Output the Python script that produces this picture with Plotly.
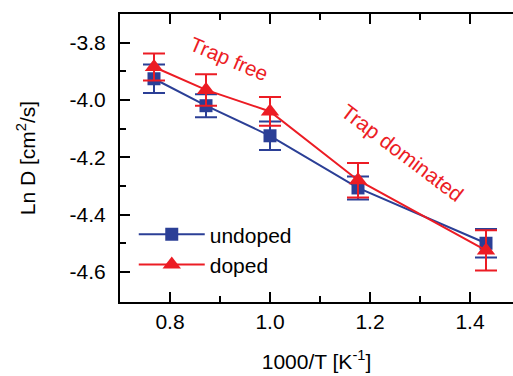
import plotly.graph_objects as go

x_vals = [0.768, 0.872, 1.0, 1.176, 1.432]
undoped = [-3.926, -4.02, -4.125, -4.307, -4.50]
undoped_err = [0.05, 0.04, 0.05, 0.04, 0.05]
doped = [-3.885, -3.965, -4.04, -4.28, -4.525]
doped_err = [0.047, 0.055, 0.05, 0.06, 0.07]
x_ticks = [0.8, 1.0, 1.2, 1.4]
x_ticktext = ["0.8", "1.0", "1.2", "1.4"]
y_ticks = [-3.8, -4.0, -4.2, -4.4, -4.6]
y_ticktext = ["-3.8", "-4.0", "-4.2", "-4.4", "-4.6"]

BLUE = "#2b3f96"
RED = "#ec1c24"
FONT = "Liberation Sans, Arial, Helvetica, sans-serif"

fig = go.Figure()
fig.add_trace(go.Scatter(
    x=x_vals, y=undoped, mode="lines+markers", name="undoped",
    line=dict(color=BLUE, width=2),
    marker=dict(symbol="square", size=13, color=BLUE),
    error_y=dict(type="data", array=undoped_err, color=BLUE, thickness=2, width=11),
))
fig.add_trace(go.Scatter(
    x=x_vals, y=doped, mode="lines+markers", name="doped",
    line=dict(color=RED, width=2),
    marker=dict(symbol="triangle-up", size=16, color=RED),
    error_y=dict(type="data", array=doped_err, color=RED, thickness=2, width=11),
))

fig.add_annotation(x=0.918, y=-3.855, text="Trap free", showarrow=False,
                   textangle=23, font=dict(size=20.5, color=RED, family=FONT))
fig.add_annotation(x=1.264, y=-4.185, text="Trap dominated", showarrow=False,
                   textangle=37, font=dict(size=21, color=RED, family=FONT))

axis_common = dict(
    showline=True, linecolor="black", linewidth=2,
    ticks="inside", ticklen=10, tickwidth=2, tickcolor="black",
    showgrid=False, zeroline=False,
    tickfont=dict(size=21, color="black", family=FONT),
)

fig.update_layout(
    width=513, height=376,
    margin=dict(l=120, r=0, t=14, b=74),
    paper_bgcolor="white", plot_bgcolor="white",
    font=dict(family=FONT, color="black"),
    showlegend=True,
    legend=dict(x=0.035, y=0.305, xanchor="left", yanchor="top",
                bgcolor="rgba(0,0,0,0)", font=dict(size=21, color="black", family=FONT),
                itemwidth=66, tracegroupgap=0),
    xaxis=dict(
        range=[0.7, 1.486], tickvals=x_ticks, ticktext=x_ticktext,
        mirror="ticks",
        minor=dict(tickvals=[0.9, 1.1, 1.3], ticklen=6, tickwidth=2, tickcolor="black", ticks="inside"),
        title=dict(text="1000/T [K<sup>-1</sup>]", font=dict(size=21, color="black", family=FONT), standoff=22),
        **axis_common,
    ),
    yaxis=dict(
        range=[-4.705, -3.7], tickvals=y_ticks, ticktext=y_ticktext,
        minor=dict(tickvals=[-3.9, -4.1, -4.3, -4.5], ticklen=6, tickwidth=2, tickcolor="black", ticks="inside"),
        ticklabelstandoff=8,
        title=dict(text="Ln D [cm<sup>2</sup>/s]", font=dict(size=21, color="black", family=FONT), standoff=28),
        **axis_common,
    ),
    yaxis2=dict(
        overlaying="y", side="right", range=[-4.705, -3.7],
        showline=False, showgrid=False, zeroline=False, showticklabels=False,
        ticks="inside", ticklen=10, tickwidth=2, tickcolor="black",
        tickvals=y_ticks,
        minor=dict(tickvals=[-3.9, -4.1, -4.3, -4.5], ticklen=6, tickwidth=2, tickcolor="black", ticks="inside"),
    ),
)

fig.write_html("out.html")
